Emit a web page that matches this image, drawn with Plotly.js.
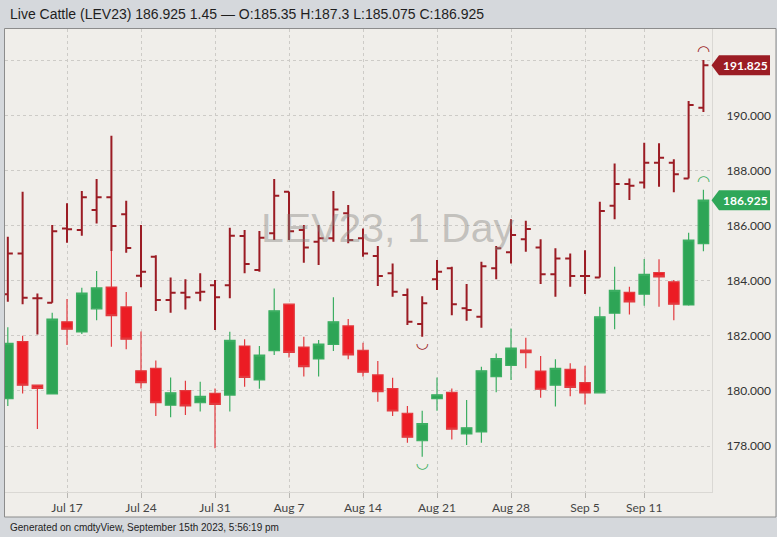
<!DOCTYPE html>
<html>
<head>
<meta charset="utf-8">
<script src="https://cdn.plot.ly/plotly-3.0.1.min.js"></script>
<style>
html,body{margin:0;padding:0;background:#d5d8dc;}
#chart{width:777px;height:537px;}
</style>
</head>
<body>
<div id="chart"></div>
<script>
// Trading days (Jul 11 – Sep 15, 2023)
const dates = [
  '2023-07-11','2023-07-12','2023-07-13','2023-07-14',
  '2023-07-17','2023-07-18','2023-07-19','2023-07-20','2023-07-21',
  '2023-07-24','2023-07-25','2023-07-26','2023-07-27','2023-07-28',
  '2023-07-31','2023-08-01','2023-08-02','2023-08-03','2023-08-04',
  '2023-08-07','2023-08-08','2023-08-09','2023-08-10','2023-08-11',
  '2023-08-14','2023-08-15','2023-08-16','2023-08-17','2023-08-18',
  '2023-08-21','2023-08-22','2023-08-23','2023-08-24','2023-08-25',
  '2023-08-28','2023-08-29','2023-08-30','2023-08-31','2023-09-01',
  '2023-09-05','2023-09-06','2023-09-07','2023-09-08',
  '2023-09-11','2023-09-12','2023-09-13','2023-09-14','2023-09-15'
];
const tickDates  = ['2023-07-17','2023-07-24','2023-07-31','2023-08-07','2023-08-14','2023-08-21','2023-08-28','2023-09-05','2023-09-11'];
const tickLabels = ['Jul 17','Jul 24','Jul 31','Aug 7','Aug 14','Aug 21','Aug 28','Sep 5','Sep 11'];
const priceTicks = [178, 180, 182, 184, 186, 188, 190, 192];

// LEV23 candlesticks
const candleOpen  = [179.72,181.79,180.21,179.89,182.51,182.14,182.98,183.77,183.05,180.73,180.82,179.48,180.01,179.57,179.91,179.85,181.63,180.40,181.46,183.15,181.59,181.16,181.69,182.36,181.47,180.58,180.08,179.19,178.19,179.72,179.95,178.44,178.51,180.52,180.93,181.48,180.72,180.21,180.78,180.30,179.93,182.82,183.58,183.51,184.30,183.96,183.12,185.35];
const candleHigh  = [182.31,182.00,180.21,182.84,183.34,183.75,184.35,185.08,183.59,182.16,181.10,180.49,180.37,180.33,180.09,182.15,181.88,181.63,183.72,183.15,181.97,181.85,183.40,182.61,181.75,181.09,180.48,179.45,179.28,180.49,180.09,179.67,180.88,181.36,182.27,181.93,181.27,181.15,181.00,180.91,183.06,184.51,183.78,184.79,184.78,184.03,185.74,187.30];
const candleLow   = [179.45,179.91,178.62,179.89,181.67,182.07,182.57,181.60,181.51,180.09,179.09,179.04,179.13,179.25,177.92,179.25,180.15,180.08,181.30,181.21,180.52,180.52,181.45,181.15,180.52,179.61,179.09,178.12,177.61,179.28,178.24,178.04,178.12,179.95,180.40,180.82,179.75,179.43,179.81,179.51,179.91,182.24,182.77,183.09,183.06,182.57,183.09,185.075];
const candleClose = [181.73,180.21,180.09,182.61,182.24,183.55,183.74,182.73,181.88,180.30,179.57,179.93,179.46,179.80,179.51,181.84,180.49,181.30,182.91,181.40,180.88,181.70,182.51,181.31,180.68,179.97,179.27,178.32,178.81,179.86,178.61,178.66,180.73,181.17,181.55,181.39,180.06,180.82,180.13,179.93,182.69,183.65,183.23,184.23,184.14,183.15,185.48,186.925];

// Comparison series (OHLC bars)
const barOpen  = [183.51,184.99,183.36,183.20,185.90,185.84,186.57,187.03,186.41,184.18,184.87,183.30,183.56,183.56,183.84,183.84,185.62,184.39,185.72,187.23,185.84,185.42,185.54,186.45,185.54,184.90,184.27,183.48,182.43,184.05,184.45,183.00,182.69,184.45,185.03,185.51,185.21,184.24,184.81,184.17,184.12,186.72,187.51,187.57,188.28,188.28,187.71,190.28];
const barHigh  = [185.60,187.23,183.54,186.02,186.81,187.26,187.69,189.26,186.90,186.02,184.93,184.12,184.05,184.27,184.03,185.92,185.84,185.81,187.69,187.23,186.02,186.02,187.26,186.75,185.90,185.26,184.63,183.72,183.44,184.75,184.51,183.88,184.69,185.26,186.23,186.18,185.51,185.18,184.99,185.11,186.87,188.26,187.71,189.01,188.99,188.41,190.53,192.01];
const barLow   = [183.24,183.15,182.05,183.20,185.38,185.63,186.08,185.08,185.02,183.76,182.90,182.84,182.96,183.26,182.21,183.36,184.27,184.33,185.48,185.48,184.65,184.57,185.42,185.36,184.87,183.81,183.42,182.39,181.97,183.66,182.75,182.55,182.29,184.05,184.63,185.05,183.88,183.42,183.78,183.52,184.12,186.23,186.93,187.35,187.41,187.21,187.71,190.13];
const barClose = [184.99,183.38,183.36,185.80,185.87,187.03,187.03,185.99,185.19,184.33,183.30,183.56,183.40,183.60,183.40,185.63,184.61,185.56,187.09,185.80,185.21,185.54,186.59,185.48,184.99,184.17,183.60,182.51,183.18,184.33,183.15,182.94,184.53,185.18,185.66,185.88,184.24,184.81,184.17,184.17,186.53,187.51,187.45,188.28,188.47,187.87,190.38,191.825];

const titleText = 'Live Cattle (LEV23) 186.925 1.45 \u2014 O:185.35 H:187.3 L:185.075 C:186.925';
const watermark = 'LEV23, 1 Day';
const footer = 'Generated on cmdtyView, September 15th 2023, 5:56:19 pm';

// ---- derived ----
const xIdx = dates.map((d, i) => i);
const tickVals = tickDates.map(d => dates.indexOf(d));

const W = 777, H = 537;
const M = {l: 5, r: 65, t: 29, b: 45};
const plotW = W - M.l - M.r, plotH = H - M.t - M.b;
const yRange = [176.33, 193.14];
const xRange = [-0.19, 47.58];
const yPerPx = (yRange[1] - yRange[0]) / plotH;
const pxX = px => (px - M.l) / plotW;      // page px -> paper x
const pxY = py => (H - M.b - py) / plotH;  // page px -> paper y

const GREEN = '#2ea556', GREEN_LINE = '#3cae62';
const RED = '#ec1c24', RED_LINE = '#e23a3f';
const DARKRED = '#9b1c24';

function argMax(a){let k=0;a.forEach((v,i)=>{if(v>a[k])k=i;});return k;}
function argMin(a){let k=0;a.forEach((v,i)=>{if(v<a[k])k=i;});return k;}

const cHi = argMax(candleHigh), cLo = argMin(candleLow);
const bHi = argMax(barHigh), bLo = argMin(barLow);

const lastC = candleClose[candleClose.length - 1];
const lastB = barClose[barClose.length - 1];

// tick labels hidden where a last-price tag covers them
const priceTickText = priceTicks.map(v =>
  (Math.abs(v - lastB) < 0.8 || Math.abs(v - lastC) < 0.8) ? '' : v.toFixed(3));

const traces = [
  {
    type: 'candlestick', x: xIdx,
    open: candleOpen, high: candleHigh, low: candleLow, close: candleClose,
    increasing: {line: {color: GREEN_LINE, width: 1.2}, fillcolor: GREEN},
    decreasing: {line: {color: RED_LINE, width: 1.2}, fillcolor: RED},
    whiskerwidth: 0, showlegend: false, hoverinfo: 'skip'
  },
  {
    type: 'ohlc', x: xIdx,
    open: barOpen, high: barHigh, low: barLow, close: barClose,
    increasing: {line: {color: DARKRED, width: 2}},
    decreasing: {line: {color: DARKRED, width: 2}},
    tickwidth: 0.34, showlegend: false, hoverinfo: 'skip'
  },
  // high / low markers (arcs)
  {
    type: 'scatter', mode: 'text', x: [cHi, bHi], y: [candleHigh[cHi], barHigh[bHi]],
    text: ['\u25E0', '\u25E0'], textposition: 'top center',
    textfont: {family: 'DejaVu Sans', size: 15, weight: 'bold', color: [GREEN_LINE, DARKRED]},
    showlegend: false, hoverinfo: 'skip', cliponaxis: false
  },
  {
    type: 'scatter', mode: 'text', x: [cLo, bLo], y: [candleLow[cLo], barLow[bLo]],
    text: ['\u25E1', '\u25E1'], textposition: 'bottom center',
    textfont: {family: 'DejaVu Sans', size: 15, weight: 'bold', color: [GREEN_LINE, DARKRED]},
    showlegend: false, hoverinfo: 'skip', cliponaxis: false
  }
];

function priceTag(value, color) {
  const h = 10 * yPerPx;
  const xt = pxX(711.5), xb = pxX(719), xe = pxX(770);
  return {
    type: 'path', xref: 'paper', yref: 'y', layer: 'above',
    path: `M ${xt},${value} L ${xb},${value + h} L ${xe},${value + h} L ${xe},${value - h} L ${xb},${value - h} Z`,
    fillcolor: color, line: {width: 0}
  };
}
function priceText(value) {
  return {
    xref: 'paper', yref: 'y', x: pxX(745), y: value, xanchor: 'center', yanchor: 'middle',
    text: value.toFixed(3), showarrow: false,
    font: {family: 'Lato', size: 12, color: '#ffffff', weight: 'bold'}
  };
}

const layout = {
  width: W, height: H,
  margin: M,
  paper_bgcolor: '#d5d8dc',
  plot_bgcolor: '#f0eeea',
  hovermode: false,
  boxgap: 0.29, boxgroupgap: 0,
  title: {
    text: titleText, xref: 'container', yref: 'container',
    x: 10 / W, xanchor: 'left', y: 1 - 14 / H, yanchor: 'middle',
    font: {family: 'Liberation Sans', size: 14, color: '#1e1e1e'}
  },
  xaxis: {
    type: 'linear', range: xRange, fixedrange: true,
    tickvals: tickVals, ticktext: tickLabels,
    ticks: 'outside', ticklen: 5, tickcolor: '#b8b6b2', tickwidth: 1,
    showgrid: true, gridcolor: '#cdcbc7', griddash: 'dot', gridwidth: 1,
    showline: true, linecolor: '#dad8d4', linewidth: 1,
    zeroline: false, rangeslider: {visible: false},
    tickfont: {family: 'Lato', size: 12, color: '#444444'}
  },
  yaxis: {
    side: 'right', range: yRange, fixedrange: true,
    tickmode: 'array', tickvals: priceTicks, ticktext: priceTickText,
    ticks: '', ticklabelstandoff: 11,
    showgrid: true, gridcolor: '#cdcbc7', griddash: 'dot', gridwidth: 1,
    showline: true, linecolor: '#dad8d4', linewidth: 1, mirror: false,
    zeroline: false,
    tickfont: {family: 'Lato', size: 12, color: '#333333'}
  },
  shapes: [
    {
      type: 'rect', xref: 'paper', yref: 'paper', layer: 'below',
      x0: pxX(4.5), x1: pxX(776), y0: pxY(517), y1: pxY(28.5),
      fillcolor: '#f0eeea', line: {color: '#8c8c8c', width: 1}
    },
    priceTag(lastB, DARKRED),
    priceTag(lastC, '#2fa759')
  ],
  annotations: [
    {
      xref: 'paper', yref: 'paper', x: pxX(387), y: pxY(228),
      xanchor: 'center', yanchor: 'middle', showarrow: false,
      text: watermark,
      font: {family: 'Liberation Sans', size: 41, color: 'rgba(130,128,125,0.42)'}
    },
    {
      xref: 'paper', yref: 'paper', x: pxX(8), y: pxY(527),
      xanchor: 'left', yanchor: 'middle', showarrow: false,
      text: footer,
      font: {family: 'Liberation Sans', size: 10, color: '#1e1e1e'}
    },
    priceText(lastB),
    priceText(lastC)
  ]
};

Plotly.newPlot('chart', traces, layout, {displayModeBar: false, staticPlot: true});
</script>
</body>
</html>
